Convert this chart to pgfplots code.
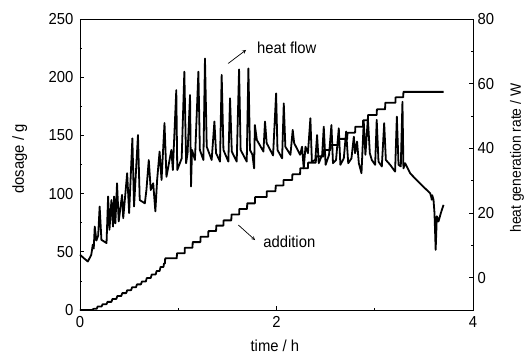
\documentclass[border=0pt]{standalone}
\usepackage{pgfplots}
\pgfplotsset{compat=1.18}
\usepackage{fontspec}
\setmainfont{Liberation Sans}[FakeStretch=0.93]
\newcommand{\lf}{\fontsize{16}{18}\selectfont}
\begin{document}
\begin{tikzpicture}
\useasboundingbox (-80bp,-44bp) rectangle (449bp,310bp);
\begin{axis}[
  at={(0,0)}, anchor=south west,
  width=393bp, height=291bp, scale only axis,
  xmin=0, xmax=4, ymin=0, ymax=250,
  xtick={0,2,4}, minor xtick={1,3},
  ytick={0,50,...,250}, minor ytick={25,75,...,225},
  xtick pos=left, ytick pos=left,
  tick align=inside,
  major tick length=4bp, minor tick length=2.5bp,
  axis line style={line width=0.9bp},
  every tick/.style={black, line width=0.8bp},
  ticklabel style={font=\lf},
  /pgf/number format/assume math mode=true,
  xticklabel style={yshift=-3bp},
  yticklabel style={xshift=-3bp},
  xlabel={time / h}, ylabel={dosage / g},
  label style={font=\lf},
  xlabel style={at={(axis description cs:0.496,-0.124)}, anchor=center},
  ylabel style={at={(axis description cs:-0.153,0.519)}, anchor=center, rotate=0},
  clip=false,
]
\addplot[black, line width=1.8bp, line join=round] coordinates {
(0,0)(0.12,0)(0.14,1)(0.17,1)(0.18,3)(0.22,3)(0.23,5)(0.27,5)(0.28,7)(0.32,7)
(0.33,9.5)(0.37,9.5)(0.38,12)(0.42,12)(0.43,14.5)(0.47,14.5)(0.48,17)(0.52,17)
(0.53,19.5)(0.57,19.5)(0.58,22)(0.62,22)(0.63,24.5)(0.67,24.5)(0.68,27.5)(0.72,27.5)
(0.73,30.5)(0.77,30.5)(0.78,33.5)(0.81,33.5)(0.82,37)(0.85,37)(0.855,40)(0.865,40)
(0.867,44.4)(0.985,44.4)(0.987,48.7)(1.065,48.7)(1.067,53.5)(1.145,53.5)(1.147,58.3)
(1.225,58.3)(1.227,63)(1.305,63)(1.307,67.8)(1.385,67.8)(1.387,72.5)(1.46,72.5)
(1.462,77)(1.54,77)(1.542,82)(1.62,82)(1.622,86.8)(1.70,86.8)(1.702,91.6)(1.78,91.6)
(1.782,97)(1.90,97)(1.902,102)(1.99,102)(1.992,107)(2.07,107)(2.072,111.7)(2.16,111.7)
(2.162,116.6)(2.24,116.6)(2.242,121.7)(2.32,121.7)(2.322,126.6)(2.40,126.6)(2.402,132)
(2.48,132)(2.482,137.5)(2.55,137.5)(2.552,141.8)(2.63,141.8)(2.632,147)(2.72,147)
(2.722,152.3)(2.80,152.3)(2.802,157.5)(2.88,157.5)(2.882,163)(2.93,163)(2.932,167.5)
(3.02,167.5)(3.022,172.4)(3.105,172.4)(3.107,178)(3.21,178)(3.212,182.7)(3.29,182.7)
(3.292,187.4)(3.70,187.4)
};
\node[font=\lf, anchor=west, inner sep=0pt] at (axis cs:1.80,225) {heat flow};
\draw[-stealth, line width=0.7bp] (axis cs:1.508,211.8) -- (axis cs:1.69,223.4);
\node[font=\lf, anchor=west, inner sep=0pt] at (axis cs:1.864,58.4) {addition};
\draw[-stealth, line width=0.7bp] (axis cs:1.612,73) -- (axis cs:1.782,60.1);
\end{axis}
\begin{axis}[
  at={(0,0)}, anchor=south west,
  width=393bp, height=291bp, scale only axis,
  xmin=0, xmax=4, ymin=-10, ymax=80,
  axis y line*=right, axis x line=none,
  ytick={0,20,...,80}, minor ytick={10,30,50,70},
  tick align=inside,
  major tick length=4bp, minor tick length=2.5bp,
  axis line style={line width=0.9bp},
  every tick/.style={black, line width=0.8bp},
  ticklabel style={font=\lf},
  /pgf/number format/assume math mode=true,
  yticklabel style={xshift=1bp},
  ylabel={heat generation rate / W},
  label style={font=\lf},
  ylabel style={at={(axis description cs:1.112,0.522)}, anchor=center, rotate=0, font=\fontsize{15}{17}\selectfont},
  clip=false,
]
\addplot[black, line width=1.8bp, line join=round] coordinates {
(0.00,7.1)(0.04,6.0)(0.08,5.0)(0.115,7.1)(0.13,10.2)(0.14,9.0)(0.15,15.8)(0.167,11.5)
(0.185,13)(0.2,22)(0.218,11.7)(0.27,10.7)(0.286,25.1)(0.30,14.8)(0.32,24)(0.336,15.8)
(0.347,25.1)(0.36,16.8)(0.377,29.2)(0.394,17.4)(0.428,25.6)(0.44,18.4)(0.48,32.3)
(0.50,20)(0.533,43.1)(0.55,22)(0.59,44.1)(0.608,24)(0.66,23)(0.676,27.1)(0.70,36.4)
(0.72,27.1)(0.745,29.2)(0.767,20.5)(0.785,30.2)(0.81,39)(0.83,30.2)(0.86,47.8)
(0.88,31.2)(0.93,39.5)(0.945,33.3)(0.98,58)(0.99,33.3)(1.035,36.9)(1.062,63.7)
(1.08,35.4)(1.095,38.5)(1.12,56.5)(1.13,28.2)(1.14,39.5)(1.17,36.4)(1.205,63.7)
(1.22,39.5)(1.256,36.4)(1.272,67.8)(1.29,40.5)(1.34,36.4)(1.368,48.3)(1.385,38.5)
(1.425,35.9)(1.442,62.7)(1.46,39.5)(1.51,35.9)(1.527,55.5)(1.545,39)(1.595,35.9)
(1.619,64.4)(1.635,39.5)(1.697,35.9)(1.714,64.7)(1.73,39.5)(1.755,38)(1.772,33.8)
(1.78,47.2)(1.80,42.6)(1.867,39)(1.883,48.3)(1.90,41.6)(1.965,37.8)(1.996,57)
(2.01,39.5)(2.057,36.9)(2.074,53.9)(2.09,40.5)(2.142,38)(2.165,45.7)(2.18,41.6)
(2.24,38.0)(2.26,40.5)(2.277,33.8)(2.295,40.5)(2.32,38.5)(2.345,49.3)(2.36,35.9)
(2.395,36.4)(2.413,44.1)(2.43,35.4)(2.465,38)(2.481,46.7)(2.50,34.9)(2.535,38)
(2.559,47.2)(2.575,35.4)(2.606,36.4)(2.634,46.2)(2.65,34.9)(2.685,36.9)(2.709,45.2)
(2.73,35.4)(2.763,36.9)(2.787,43.6)(2.80,38.5)(2.82,42.1)(2.838,35.4)(2.865,32.3)
(2.888,48.3)(2.905,38)(2.93,49.3)(2.95,38.5)(2.97,36.4)(3.004,34.9)(3.02,48.8)
(3.038,35.9)(3.072,34.4)(3.096,47.8)(3.113,36.4)(3.157,34.9)(3.207,32.8)(3.225,49.8)
(3.242,34.9)(3.265,34.4)(3.282,54.4)(3.292,33.8)(3.31,35.4)(3.36,32.3)(3.41,30.7)
(3.46,29.2)(3.513,27.6)(3.564,26.1)(3.575,25.0)(3.58,24.1)(3.585,25.5)(3.598,24.1)
(3.608,20)(3.62,8.6)(3.632,19)(3.649,17.4)(3.673,20)(3.70,22.5)
};
\end{axis}
\end{tikzpicture}
\end{document}
